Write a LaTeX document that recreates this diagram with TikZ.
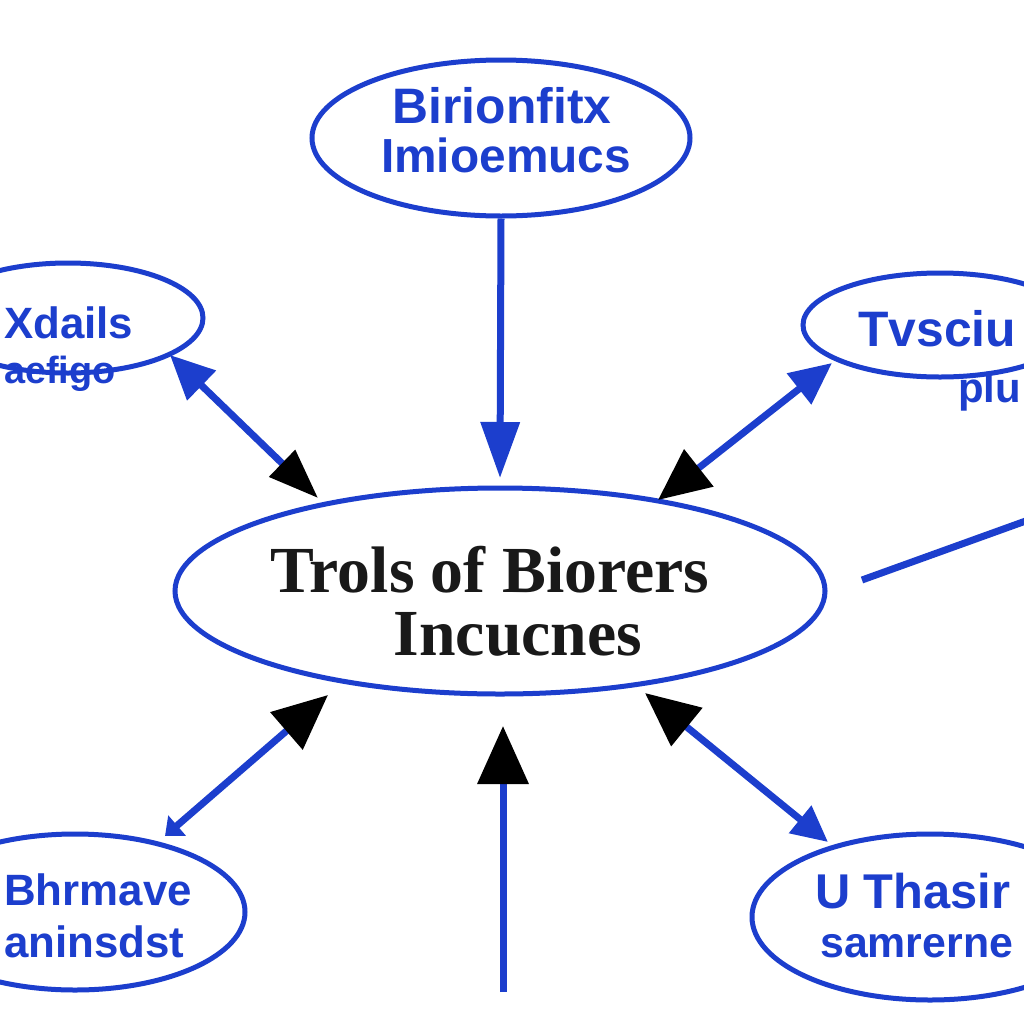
\documentclass[tikz,border=0pt]{standalone}
\usepackage{fontspec}
\setmainfont{Liberation Serif}
\newfontfamily\lsans{Liberation Sans}
\usetikzlibrary{shapes.geometric,arrows.meta}
\definecolor{myblue}{RGB}{28,62,205}
\begin{document}
\begin{tikzpicture}[x=1bp,y=-1bp,
  ell/.style={ellipse,draw=myblue,line width=5bp,inner sep=0pt},
  conn/.style={draw=myblue,line width=7bp},
  btxt/.style={text=myblue,font=\lsans\bfseries\fontsize{48}{50}\selectfont,inner sep=0pt},
  ktxt/.style={text=black!90,font=\bfseries\fontsize{66}{68}\selectfont,inner sep=0pt},
]
\useasboundingbox (0,0) rectangle (1024,1024);
\clip (0,0) rectangle (1024,1024);
\fill[white] (0,0) rectangle (1024,1024);

% ellipses
\node[ell,minimum width=378bp,minimum height=156bp] (top) at (501,138) {};
\node[ell,minimum width=270bp,minimum height=110bp] (tl) at (68,318) {};
\node[ell,minimum width=274bp,minimum height=104bp] (tr) at (940,325) {};
\node[ell,minimum width=650bp,minimum height=206bp] (ctr) at (500,591) {};
\node[ell,minimum width=340bp,minimum height=156bp] (bl) at (75,912) {};
\node[ell,minimum width=356bp,minimum height=166bp] (br) at (930,917) {};

% texts
\node[btxt,anchor=base,font=\lsans\bfseries\fontsize{50}{52}\selectfont] (t1) at (502,123) {Birionfitx};
\node[btxt,anchor=base] (t2) at (506,172) {Imioemucs};
\node[btxt,anchor=base west,font=\lsans\bfseries\fontsize{44}{46}\selectfont] (l1) at (4,338) {Xdails};
\node[btxt,anchor=base west,font=\lsans\bfseries\fontsize{38}{40}\selectfont] (l2) at (4,383) {aefigo};
\node[btxt,anchor=base west,font=\lsans\bfseries\fontsize{50}{52}\selectfont] (r1) at (858,346) {Tvsciu};
\node[btxt,anchor=base west,font=\lsans\bfseries\fontsize{42}{44}\selectfont] (r2) at (958,402) {plu};
\node[ktxt,anchor=base] (c1) at (490,592) {Trols of Biorers};
\node[ktxt,anchor=base] (c2) at (518,655) {Incucnes};
\node[btxt,anchor=base west,font=\lsans\bfseries\fontsize{44}{46}\selectfont] (b1) at (4,905) {Bhrmave};
\node[btxt,anchor=base west,font=\lsans\bfseries\fontsize{44}{46}\selectfont] (b2) at (4,957) {aninsdst};
\node[btxt,anchor=base west,font=\lsans\bfseries\fontsize{49}{51}\selectfont] (s1) at (815,908) {U Thasir};
\node[btxt,anchor=base west,font=\lsans\bfseries\fontsize{43}{45}\selectfont] (s2) at (820,957) {samrerne};

% connector end points
\coordinate (p1) at (500,478);
\coordinate (p2a) at (170,355);
\coordinate (p2b) at (318,498);
\coordinate (p3a) at (832,363);
\coordinate (p3b) at (658,500);
\coordinate (p4a) at (862,580);
\coordinate (p4b) at (1034,518);
\coordinate (p5a) at (165,836);
\coordinate (p5b) at (328,695);
\coordinate (p6a) at (503,992);
\coordinate (p6b) at (503,726);
\coordinate (p7a) at (645,693);
\coordinate (p7b) at (828,842);

% connectors
\draw[conn,-{Triangle[length=56bp,width=38bp]}] (top.south) -- (p1);
\draw[conn,{Triangle[length=44bp,width=40bp]}-{Triangle[black,length=50bp,width=36bp]}] (p2a) -- (p2b);
\draw[conn,{Triangle[length=42bp,width=38bp]}-{Triangle[black,length=52bp,width=46bp]}] (p3a) -- (p3b);
\draw[conn] (p4a) -- (p4b);
\draw[conn,{Triangle[length=16bp,width=26bp]}-{Triangle[black,length=55bp,width=48bp]}] (p5a) -- (p5b);
\draw[conn,-{Triangle[black,length=58bp,width=50bp]}] (p6a) -- (p6b);
\draw[conn,{Triangle[black,length=54bp,width=48bp]}-{Triangle[length=36bp,width=34bp]}] (p7a) -- (p7b);
\end{tikzpicture}
\end{document}
